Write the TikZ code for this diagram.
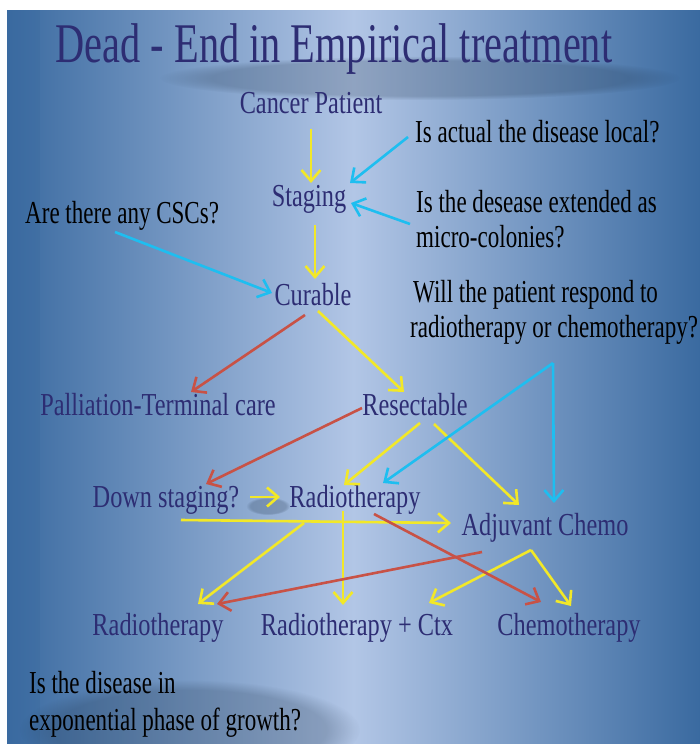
\documentclass[tikz,border=0pt]{standalone}
\usepackage{fontspec}
\setmainfont[FakeStretch=0.76]{Liberation Serif}
\newfontfamily\titlefont[FakeStretch=0.72]{Liberation Serif}
\newfontfamily\qfont[FakeStretch=0.72]{Liberation Serif}
\usetikzlibrary{arrows.meta,fadings}

\definecolor{bgdark}{RGB}{58,106,160}
\definecolor{bglight}{RGB}{178,198,230}
\definecolor{navy}{RGB}{45,45,115}
\definecolor{ayellow}{RGB}{242,232,40}
\definecolor{ablue}{RGB}{30,190,240}
\definecolor{ared}{RGB}{200,82,70}

\begin{document}
\begin{tikzpicture}[x=1pt,y=-1pt,
  nd/.style={text=navy, font=\fontsize{32}{34}\selectfont, inner sep=0pt, anchor=base},
  qt/.style={text=black, font=\qfont\fontsize{32}{34}\selectfont, inner sep=0pt, anchor=base west},
  arw/.style={line width=2.6pt, -{Straight Barb[length=11pt,width=19pt]}},
  ya/.style={arw, draw=ayellow},
  ba/.style={arw, draw=ablue},
  ra/.style={arw, draw=ared},
  shadow/.style={fill=black!60!bgdark, fill opacity=0.22, path fading=circle with fuzzy edge 20 percent}
]
\useasboundingbox (0,0) rectangle (700,744);
\fill[white] (0,0) rectangle (700,744);
\shade[left color=bgdark, right color=bgdark, middle color=bglight] (7,10) rectangle (700,744);
\fill[bgdark, opacity=0.35] (7,10) rectangle (40,744);
\fill[shadow] (420,78) ellipse [x radius=260, y radius=22];
\fill[shadow] (190,730) ellipse [x radius=170, y radius=50];
\fill[shadow] (268,506) ellipse [x radius=22, y radius=9];

% title
\node[text=navy, font=\titlefont\fontsize{56}{58}\selectfont, inner sep=0pt, anchor=base] (title) at (334,62) {Dead - End in Empirical treatment};

% main nodes
\node[nd] (cp)  at (311,113) {Cancer Patient};
\node[nd] (st)  at (309,206) {Staging};
\node[nd] (cu)  at (313,305) {Curable};
\node[nd] (pal) at (158,415) {Palliation-Terminal care};
\node[nd] (res) at (415,415) {Resectable};
\node[nd] (ds)  at (166,507) {Down staging?};
\node[nd] (rt)  at (355,507) {Radiotherapy};
\node[nd] (ac)  at (545,535) {Adjuvant Chemo};
\node[nd] (rtb) at (158,635) {Radiotherapy};
\node[nd] (rtc) at (357,635) {Radiotherapy + Ctx};
\node[nd] (ch)  at (569,635) {Chemotherapy};

% questions
\node[qt] (q1)  at (415,142) {Is actual the disease local?};
\node[qt] (q2a) at (416,212) {Is the desease extended as};
\node[qt] (q2b) at (416,247) {micro-colonies?};
\node[qt] (q3)  at (25,223)  {Are there any CSCs?};
\node[qt] (q4a) at (413,302) {Will the patient respond to};
\node[qt] (q4b) at (410,337) {radiotherapy or chemotherapy?};
\node[qt] (q5a) at (29,693)  {Is the disease in};
\node[qt] (q5b) at (29,730)  {exponential phase of growth?};

% connector end points
\coordinate (cp-s) at (311,129);  \coordinate (st-n) at (311,183);
\coordinate (st-s) at (315,225);  \coordinate (cu-n) at (315,279);
\coordinate (q1-w) at (408,137);  \coordinate (st-ne) at (350,183);
\coordinate (q2-w) at (410,224);  \coordinate (st-e) at (351,203);
\coordinate (q3-s) at (115,232);  \coordinate (cu-w) at (272,293);
\coordinate (cu-sw) at (305,315); \coordinate (pal-n) at (191,392);
\coordinate (cu-se) at (318,311); \coordinate (res-n) at (404,392);
\coordinate (q4-s) at (553,363);  \coordinate (ac-n) at (554,503);
\coordinate (rt-ne) at (383,483);
\coordinate (res-w) at (362,408); \coordinate (ds-n) at (206,484);
\coordinate (res-sw) at (420,423); \coordinate (rt-n) at (344,485);
\coordinate (res-se) at (434,424); \coordinate (ac-nw) at (519,505);
\coordinate (ds-e) at (250,497);  \coordinate (rt-w) at (280,497);
\coordinate (ds-s) at (181,520);  \coordinate (ac-w) at (451,523);
\coordinate (rt-s) at (343,511);  \coordinate (rtc-n) at (343,605);
\coordinate (rt-sw) at (304,523); \coordinate (rtb-n) at (198,604);
\coordinate (rt-se) at (374,514); \coordinate (ch-nw) at (541,602);
\coordinate (ac-sw) at (482,552); \coordinate (rtb-ne) at (217,604);
\coordinate (ac-s) at (531,550);  \coordinate (rtc-ne) at (429,603);
\coordinate (ch-n) at (571,606);

% yellow
\draw[ya] (cp-s) -- (st-n);
\draw[ya] (st-s) -- (cu-n);
\draw[ya] (cu-se) -- (res-n);
\draw[ya] (res-sw) -- (rt-n);
\draw[ya] (res-se) -- (ac-nw);
\draw[ya] (ds-e) -- (rt-w);
\draw[ya] (ds-s) -- (ac-w);
\draw[ya] (rt-s) -- (rtc-n);
\draw[ya] (rt-sw) -- (rtb-n);
\draw[ya] (ac-s) -- (rtc-ne);
\draw[ya] (ac-s) -- (ch-n);
% red
\draw[ra] (cu-sw) -- (pal-n);
\draw[ra] (res-w) -- (ds-n);
\draw[ra] (rt-se) -- (ch-nw);
\draw[ra] (ac-sw) -- (rtb-ne);
% blue
\draw[ba] (q1-w) -- (st-ne);
\draw[ba] (q2-w) -- (st-e);
\draw[ba] (q3-s) -- (cu-w);
\draw[ba] (q4-s) -- (ac-n);
\draw[ba] (q4-s) -- (rt-ne);
\end{tikzpicture}
\end{document}
